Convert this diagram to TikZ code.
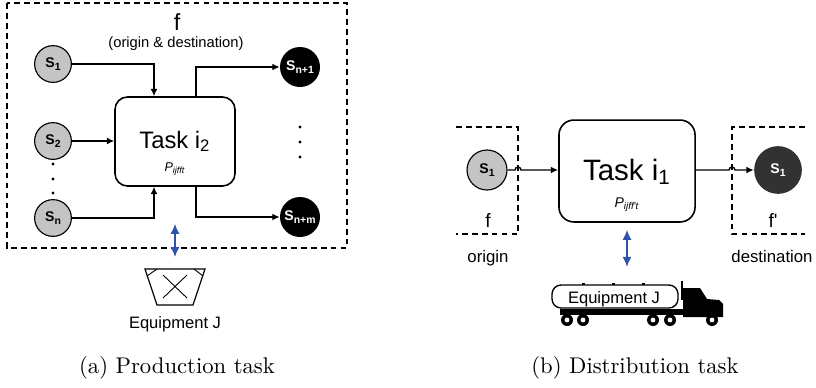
\documentclass[tikz,border=0pt]{standalone}
\usepackage{fontspec}
\newfontfamily\arial{Liberation Sans}
\usetikzlibrary{positioning,arrows.meta,calc}

\newcommand{\fsz}[1]{\fontsize{#1}{#1}\selectfont}
\newcommand{\stname}[1]{S\raisebox{-0.35ex}{\fsz{4.6}#1}}
\definecolor{liftblue}{RGB}{48,82,170}
\definecolor{stgray}{RGB}{196,196,196}
\definecolor{stdark}{RGB}{50,50,50}

\begin{document}
\begin{tikzpicture}[
    x=0.0155cm, y=-0.0155cm,
    font=\arial,
    task/.style={draw, rounded corners=5.5pt, line width=0.7pt, inner sep=0pt},
    srcstate/.style={circle, draw, fill=stgray, line width=0.5pt, inner sep=0pt,
        minimum size=0.57cm, font=\arial\fsz{6.2}\bfseries},
    snkstate/.style={circle, fill=black, text=white, inner sep=0pt,
        minimum size=0.62cm, font=\arial\fsz{6.2}\bfseries},
    flow/.style={-{Latex[length=3.2pt,width=3pt]}, line width=0.5pt},
    lift/.style={{Latex[length=4.4pt,width=4pt]}-{Latex[length=4.4pt,width=4pt]},
        line width=0.7pt, color=liftblue},
    site/.style={dash pattern=on 2.6pt off 1.8pt, line width=0.6pt},
    vdot/.style={circle, fill=black, inner sep=0pt, minimum size=1.5pt},
    lbl/.style={anchor=base, font=\arial\fsz{#1}},
    subcap/.style={anchor=base, font=\rmfamily\fsz{10}}
]
\useasboundingbox (0,0) rectangle (816,387);

% ============================================================
% PRODUCTION TASK
% ============================================================
\draw[site] (7,3) rectangle (347,248);
\node[lbl=10.3] (fprod) at (177,30) {f};
\node[lbl=6.5] (odlbl) at (176,47) {(origin \& destination)};

\node[task, minimum width=1.86cm, minimum height=1.38cm] (prod) at (175,141.5) {};
\node[lbl=10.5] (prodname) at (175,148) {Task i\textsubscript{2}};
\node[lbl=5.6, font=\arial\itshape\fsz{5.6}] (prodparm) at (175,171) {P\textsubscript{ijfft}};

\node[srcstate] (s1) at (53,64) {\stname{1}};
\node[srcstate] (s2) at (53,141) {\stname{2}};
\node[srcstate] (sn) at (53,218) {\stname{n}};
\node[snkstate] (sout1) at (300,67) {\stname{n+1}};
\node[snkstate] (soutm) at (300,217) {\stname{n+m}};

\foreach \y in {164,179,193} \node[vdot] at (53,\y) {};
\foreach \y in {127,142,157} \node[vdot] at (300,\y) {};

\draw[flow] (s1.east) -| ($(prod.north)+(-21,0)$);
\draw[flow] (s2.east) -- (s2.east -| prod.west);
\draw[flow] (sn.east) -| ($(prod.south)+(-21,0)$);
\draw[flow] ($(prod.north)+(21,0)$) |- (sout1.west);
\draw[flow] ($(prod.south)+(21,0)$) |- (soutm.west);

% machine below the site
\coordinate (eqp) at (175,269);
\draw[lift, shorten <=0.574cm, shorten >=0.186cm] (prod.south) -- (eqp);
\draw[line width=0.5pt] (145,269) -- (205,269) -- (193,305) -- (157,305) -- cycle;
\draw[line width=0.4pt] (157,269) -- (147,276) (194,269) -- (203,276);
\draw[line width=0.4pt] (163,275) -- (187,298) (163,298) -- (187,275);
\node[lbl=7.3] (eqplbl) at (175,328) {Equipment J};

\node[subcap] (capa) at (177,373) {(a) Production task};

% ============================================================
% DISTRIBUTION TASK
% ============================================================
\draw[site] (456,127) -- (518,127) -- (518,234) -- (456,234);
\draw[site] (805,127) -- (732,127) -- (732,234) -- (805,234);
\coordinate (fcut) at (518,170);
\coordinate (fpcut) at (732,170);

\node[task, rounded corners=6.6pt, minimum width=2.11cm, minimum height=1.58cm] (dist) at (627,171) {};
\node[lbl=13] (distname) at (627,180) {Task i\textsubscript{1}};
\node[lbl=6.2, font=\arial\itshape\fsz{6.2}] (distparm) at (627,207) {P\textsubscript{ijff't}};

\node[srcstate, minimum size=0.62cm] (orig) at (487,170) {\stname{1}};
\node[snkstate, fill=stdark, minimum size=0.74cm] (dest) at (778,170) {\stname{1}};

\node[lbl=8.5] (forig) at (488,227) {f};
\node[lbl=8.5] (fdest) at (773,227) {f'};
\node[lbl=7.4] (origlbl) at (488,262) {origin};
\node[lbl=7.4] (destlbl) at (772,262) {destination};

\draw[flow, line width=0.6pt] (orig.east) -- ($(fcut)+(-3,0)$)
    arc[start angle=180, end angle=360, radius=3] -- (fcut -| dist.west);
\draw[flow, line width=0.6pt] (fcut -| dist.east) -- ($(fpcut)+(-3,0)$)
    arc[start angle=180, end angle=360, radius=3] -- (dest.west);

% tanker truck
\coordinate (truck) at (627,283);
\draw[lift, shorten <=0.11cm, shorten >=0.25cm] (dist.south) -- (truck);
\foreach \x in {583,613,643} \fill (\x-1.5,282.5) rectangle (\x+1.5,285.5);
\fill (560,309) rectangle (684,315);
\draw[fill=white, line width=0.6pt, rounded corners=4pt] (552,285) rectangle (678,308);
\draw[line width=1.2pt] (682,281) -- (682,300);
\fill (683,288) -- (700,288) -- (707,299) -- (719,300) -- (723,304) -- (723,317) -- (683,317) -- cycle;
\foreach \x in {567,583,653,670,712} {
    \fill (\x,320) circle[radius=6];
    \fill[white] (\x,320) circle[radius=2.4];
}
\node[lbl=7.3] (truckcap) at (614,303) {Equipment J};

\node[subcap] (capb) at (635,373) {(b) Distribution task};

\end{tikzpicture}
\end{document}
